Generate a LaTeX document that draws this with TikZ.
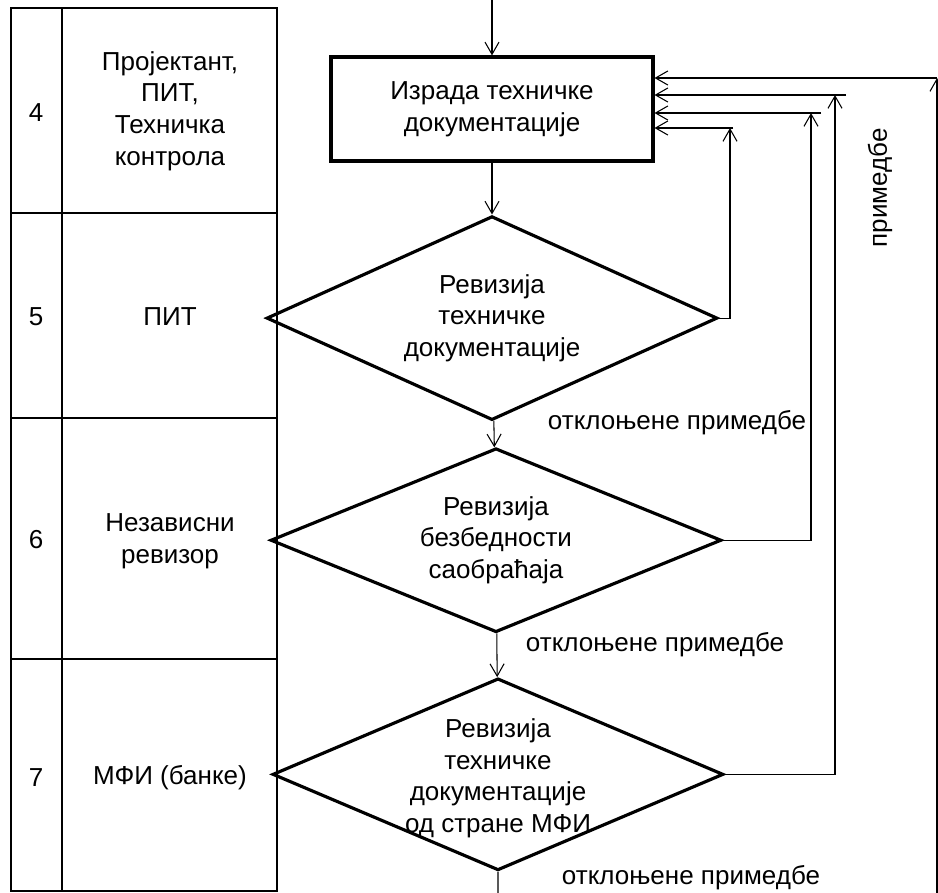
\documentclass[tikz,border=0pt]{standalone}
\usepackage{fontspec}
\setmainfont{Liberation Sans}
\usetikzlibrary{positioning,shapes.geometric,arrows.meta}

\begin{document}
\begin{tikzpicture}[x=0.02cm, y=-0.02cm, font=\fontsize{14.8}{18}\selectfont,
  tbl/.style={line width=1.1pt},
  txt/.style={align=center, inner sep=0pt},
  task/.style={rectangle, draw, line width=1.8pt, minimum width=6.44cm, minimum height=2.08cm, align=center},
  dec/.style={diamond, draw, line width=1.8pt, inner sep=0pt, minimum width=9.02cm},
  ar/.style={line width=0.6pt, -{Straight Barb[length=7pt, width=8pt]}},
  ln/.style={line width=0.6pt}]
      \useasboundingbox (0,0) rectangle (938,893);

      \draw[tbl] (11,8) rectangle (277,891);
      \draw[tbl] (62,8) -- (62,891);
      \draw[tbl] (11,213) -- (277,213);
      \draw[tbl] (11,418) -- (277,418);
      \draw[tbl] (11,659) -- (277,659);

      \node[txt] (n4) at (36,113) {4};
      \node[txt] (n5) at (36,317) {5};
      \node[txt] (n6) at (36,540) {6};
      \node[txt] (n7) at (36,778) {7};
      \node[txt] (r4) at (170,111) {Пројектант,\\ПИТ,\\Техничка\\контрола};
      \node[txt] (r5) at (170,317) {ПИТ};
      \node[txt] (r6) at (170,541) {Независни\\ревизор};
      \node[txt] (r7) at (170,778) {МФИ (банке)};

      \node[task] (box) at (492,109) {Израда техничке\\документације};
      \node[dec, minimum height=4.08cm] (d1) [below=1.04cm of box] {};
      \node[dec, minimum height=3.68cm] (d2) [below=0.5cm of d1, xshift=0.08cm] {};
      \node[dec, minimum height=3.84cm] (d3) [below=0.86cm of d2, xshift=0.04cm] {};
      \node[txt] (t1) at (d1) {Ревизија\\техничке\\документације};
      \node[txt] (t2) at (d2) {Ревизија\\безбедности\\саобраћаја};
      \node[txt] (t3) at ([yshift=-0.08cm]d3.center) {Ревизија\\техничке\\документације\\од стране МФИ};

      \coordinate (in) at (492,0);
      \coordinate (out) at (498,893);
      \coordinate (c1) at (730,128);
      \coordinate (e1) at (733,128);
      \coordinate (c2) at (811,113);
      \coordinate (e2) at (821,113);
      \coordinate (c3) at (835,95);
      \coordinate (e3) at (846,95);
      \coordinate (c4) at (937,78);
      \coordinate (b4) at (937,893);

      \draw[ar] (in) -- (box);
      \draw[ar] (box) -- (d1);
      \draw[ar] (d1) -- (d2);
      \draw[ar] (d2) -- (d3);
      \draw[ln] (d3.south) -- (out);

      \draw[ar] (d1.east) -| (c1);
      \draw[ar] (e1) -- (c1 -| box.east);
      \draw[ar] (d2.east) -| (c2);
      \draw[ar] (e2) -- (c2 -| box.east);
      \draw[ar] (d3.east) -| (c3);
      \draw[ar] (e3) -- (c3 -| box.east);
      \draw[ar] (b4) -- (c4);
      \draw[ar] (c4) -- (c4 -| box.east);

      \node (l1) at (677,423) {отклоњене примедбе};
      \node (l2) at (655,645) {отклоњене примедбе};
      \node (l3) at (691,878) {отклоњене примедбе};
      \node[rotate=90] (l4) at (880,188) {примедбе};
    \end{tikzpicture}
\end{document}
